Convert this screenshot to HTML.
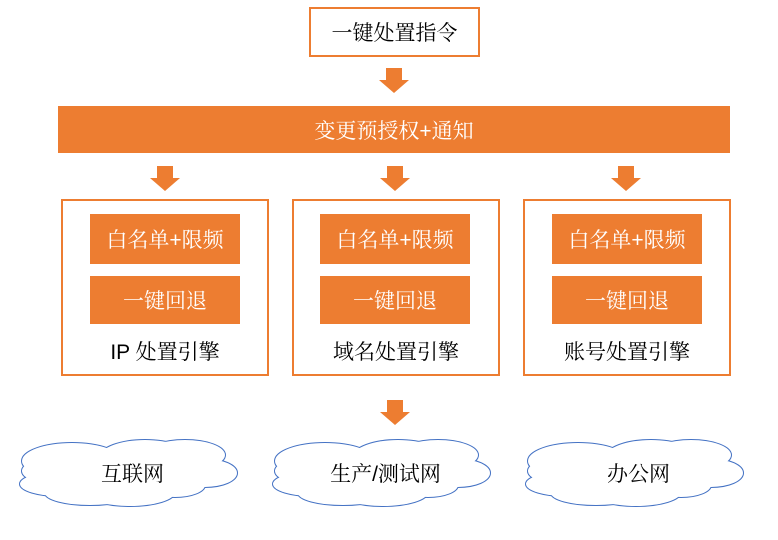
<!DOCTYPE html>
<html><head><meta charset="utf-8"><style>
body{margin:0;width:778px;height:540px;background:#fff;position:relative;overflow:hidden;font-family:"Liberation Sans","Noto Serif CJK SC","Noto Sans CJK SC",serif}
.a{position:absolute;box-sizing:border-box;display:flex;align-items:center;justify-content:center;text-align:center}
.o{background:#ED7D31;color:#fff;font-size:21px}
.b{border:2px solid #ED7D31}
.t{font-size:21px;color:#000}
</style></head><body>
<svg width="778" height="540" style="position:absolute;left:0;top:0">
<defs>
<g id="ar"><polygon points="-8,0 8,0 8,12 15,12 0,25 -15,12 -8,12" fill="#ED7D31"/></g>
<g id="cl">
<g fill="none" stroke="#4472C4" stroke-width="2">
<ellipse cx="50" cy="34" rx="28" ry="12"/>
<ellipse cx="60" cy="47" rx="40" ry="12"/>
<ellipse cx="72" cy="24" rx="50" ry="18"/>
<ellipse cx="145" cy="20" rx="45" ry="17"/>
<ellipse cx="185" cy="18" rx="40" ry="15"/>
<ellipse cx="205" cy="36" rx="32" ry="14"/>
<ellipse cx="175" cy="48" rx="30" ry="12"/>
<ellipse cx="130" cy="55" rx="45" ry="14"/>
<ellipse cx="90" cy="56" rx="45" ry="12"/>
</g>
<g fill="#fff">
<ellipse cx="50" cy="34" rx="28" ry="12"/>
<ellipse cx="60" cy="47" rx="40" ry="12"/>
<ellipse cx="72" cy="24" rx="50" ry="18"/>
<ellipse cx="145" cy="20" rx="45" ry="17"/>
<ellipse cx="185" cy="18" rx="40" ry="15"/>
<ellipse cx="205" cy="36" rx="32" ry="14"/>
<ellipse cx="175" cy="48" rx="30" ry="12"/>
<ellipse cx="130" cy="55" rx="45" ry="14"/>
<ellipse cx="90" cy="56" rx="45" ry="12"/>
<ellipse cx="130" cy="36" rx="90" ry="22"/>
</g>
</g>
</defs>
<use href="#ar" x="394" y="68"/>
<use href="#ar" x="165" y="166"/>
<use href="#ar" x="395" y="166"/>
<use href="#ar" x="626" y="166"/>
<use href="#ar" x="395" y="400"/>
<use href="#cl" x="0" y="437"/>
<use href="#cl" x="253" y="437"/>
<use href="#cl" x="506" y="437"/>
</svg>
<div class="a b t" style="left:309px;top:7px;width:171px;height:50px">一键处置指令</div>
<div class="a o" style="left:58px;top:106px;width:672px;height:47px">变更预授权+通知</div>

<div class="a b" style="left:61px;top:199px;width:208px;height:177px"></div>
<div class="a b" style="left:292px;top:199px;width:208px;height:177px"></div>
<div class="a b" style="left:523px;top:199px;width:208px;height:177px"></div>

<div class="a o" style="left:90px;top:214px;width:150px;height:50px">白名单+限频</div>
<div class="a o" style="left:90px;top:276px;width:150px;height:48px">一键回退</div>
<div class="a o" style="left:320px;top:214px;width:150px;height:50px">白名单+限频</div>
<div class="a o" style="left:320px;top:276px;width:150px;height:48px">一键回退</div>
<div class="a o" style="left:552px;top:214px;width:150px;height:50px">白名单+限频</div>
<div class="a o" style="left:552px;top:276px;width:150px;height:48px">一键回退</div>

<div class="a t" style="left:62px;top:335px;width:206px;height:32px">IP 处置引擎</div>
<div class="a t" style="left:293px;top:335px;width:206px;height:32px">域名处置引擎</div>
<div class="a t" style="left:524px;top:335px;width:206px;height:32px">账号处置引擎</div>

<div class="a t" style="left:30px;top:457px;width:205px;height:32px">互联网</div>
<div class="a t" style="left:283px;top:457px;width:205px;height:32px">生产/测试网</div>
<div class="a t" style="left:536px;top:457px;width:205px;height:32px">办公网</div>
</body></html>
